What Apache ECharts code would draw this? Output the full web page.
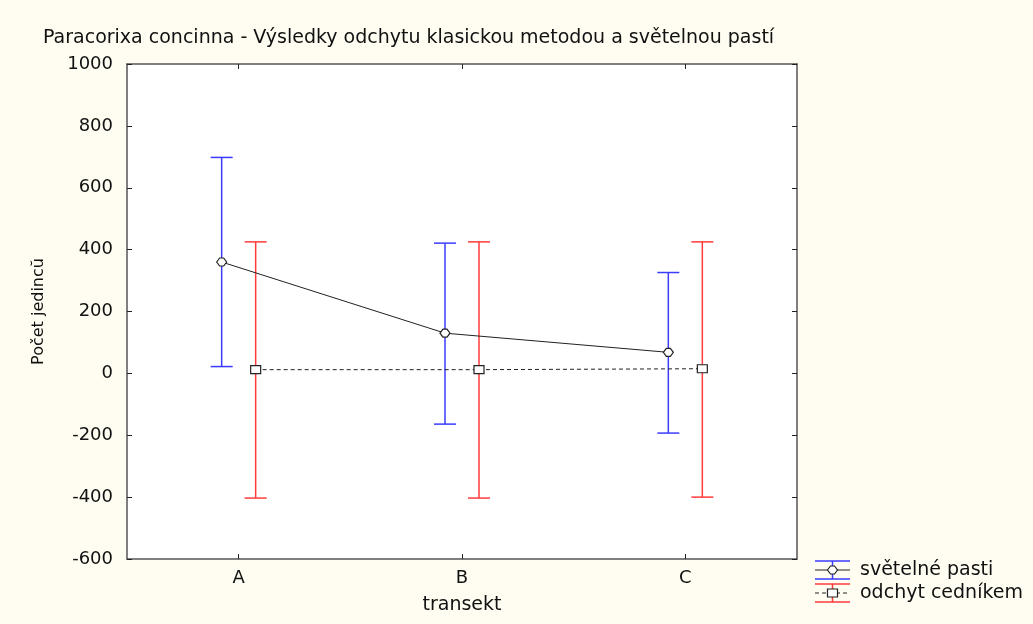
<!DOCTYPE html>
<html>
<head>
<meta charset="utf-8">
<title>Paracorixa concinna</title>
<script src="https://cdn.jsdelivr.net/npm/echarts@6/dist/echarts.min.js"></script>
<style>
  html, body { margin: 0; padding: 0; background: #fffcf1; }
  #main { width: 1033px; height: 624px; }
</style>
</head>
<body>
<div id="main"></div>
<script>
// transekty
var categories = ['A', 'B', 'C'];
// světelné pasti: průměr a meze
var pastiMean = [360, 130, 68];
var pastiLow = [22, -164, -193];
var pastiHigh = [698, 421, 326];
// odchyt cedníkem
var cednikMean = [12, 12, 15];
var cednikLow = [-403, -403, -400];
var cednikHigh = [425, 425, 425];
// osa y
var yTicks = [-600, -400, -200, 0, 200, 400, 600, 800, 1000];

var FONT = 'DejaVu Sans, Verdana, sans-serif';
var BLUE = '#3b3bff';
var RED = '#ff3b3b';
var SHIFT = 17;   // posun skupin od středu kategorie (px)
var CAP = 11;

function errorBar(mean, low, high, color, dx) {
  return function (params, api) {
    var i = params.dataIndex;
    var top = api.coord([i, high[i]]);
    var bot = api.coord([i, low[i]]);
    var x = top[0] + dx;
    var st = { stroke: color, lineWidth: 1.5 };
    return {
      type: 'group', children: [
        { type: 'line', shape: { x1: x, y1: top[1], x2: x, y2: bot[1] }, style: st },
        { type: 'line', shape: { x1: x - CAP, y1: top[1], x2: x + CAP, y2: top[1] }, style: st },
        { type: 'line', shape: { x1: x - CAP, y1: bot[1], x2: x + CAP, y2: bot[1] }, style: st }
      ]
    };
  };
}

function meanLine(mean, dx, dashed) {
  return function (params, api) {
    var i = params.dataIndex;
    var p = api.coord([i, mean[i]]);
    var kids = [];
    if (i > 0) {
      var q = api.coord([i - 1, mean[i - 1]]);
      kids.push({
        type: 'line',
        shape: { x1: q[0] + dx, y1: q[1], x2: p[0] + dx, y2: p[1] },
        style: { stroke: '#222', lineWidth: 1, lineDash: dashed ? [4, 3] : null }
      });
    }
    return { type: 'group', children: kids };
  };
}

function markerItem(mean, dx, kind) {
  return function (params, api) {
    var i = params.dataIndex;
    var p = api.coord([i, mean[i]]);
    var x = p[0] + dx, y = p[1];
    var st = { fill: '#fff', stroke: '#222', lineWidth: 1.2 };
    if (kind === 'diamond') {
      return { type: 'polygon', shape: { points: [[x - 5, y], [x - 2, y - 4], [x + 2, y - 4], [x + 5, y], [x + 2, y + 4], [x - 2, y + 4]] }, style: st };
    }
    return { type: 'rect', shape: { x: x - 5, y: y - 4, width: 10, height: 8 }, style: st };
  };
}

function axisY(pos, labels) {
  return {
    type: 'value', position: pos, min: yTicks[0], max: yTicks[yTicks.length - 1], interval: 200,
    axisLine: { show: true, onZero: false, lineStyle: { color: '#555', width: 1.5 } },
    axisTick: { show: true, inside: true, length: 5, lineStyle: { color: '#222' } },
    axisLabel: { show: labels, color: '#111', fontFamily: FONT, fontSize: 18, margin: 14, formatter: function (v) { return String(v); } },
    splitLine: { show: false },
    name: labels ? 'Počet jedincŭ' : '', nameLocation: 'middle', nameGap: 80, nameRotate: 90,
    nameTextStyle: { color: '#111', fontFamily: FONT, fontSize: 16 }
  };
}

function axisX(pos, labels) {
  return {
    type: 'category', position: pos, data: categories,
    axisLine: { show: true, onZero: false, lineStyle: { color: '#555', width: 1.5 } },
    axisTick: { show: true, inside: true, alignWithLabel: true, length: 5, lineStyle: { color: '#222' } },
    axisLabel: { show: labels, color: '#111', fontFamily: FONT, fontSize: 18, margin: 10 },
    name: labels ? 'transekt' : '', nameLocation: 'middle', nameGap: 37,
    nameTextStyle: { color: '#111', fontFamily: FONT, fontSize: 19 }
  };
}

var chart = echarts.init(document.getElementById('main'), null, { renderer: 'canvas' });

var lg = [];
// legenda - světelné pasti
lg.push({ type: 'line', shape: { x1: 815, y1: 561, x2: 850, y2: 561 }, style: { stroke: BLUE, lineWidth: 1.5 } });
lg.push({ type: 'line', shape: { x1: 815, y1: 579, x2: 850, y2: 579 }, style: { stroke: BLUE, lineWidth: 1.5 } });
lg.push({ type: 'line', shape: { x1: 832.5, y1: 561, x2: 832.5, y2: 579 }, style: { stroke: BLUE, lineWidth: 1.5 } });
lg.push({ type: 'line', shape: { x1: 815, y1: 570, x2: 850, y2: 570 }, style: { stroke: '#222', lineWidth: 1 } });
lg.push({ type: 'polygon', shape: { points: [[827.5, 570], [830.5, 566], [834.5, 566], [837.5, 570], [834.5, 574], [830.5, 574]] }, style: { fill: '#fff', stroke: '#222', lineWidth: 1.2 } });
lg.push({ type: 'text', style: { x: 860, y: 570, text: 'světelné pasti', fill: '#111', font: '19px ' + FONT, verticalAlign: 'middle' } });
// legenda - odchyt cedníkem
lg.push({ type: 'line', shape: { x1: 815, y1: 584, x2: 850, y2: 584 }, style: { stroke: RED, lineWidth: 1.5 } });
lg.push({ type: 'line', shape: { x1: 815, y1: 602, x2: 850, y2: 602 }, style: { stroke: RED, lineWidth: 1.5 } });
lg.push({ type: 'line', shape: { x1: 832.5, y1: 584, x2: 832.5, y2: 602 }, style: { stroke: RED, lineWidth: 1.5 } });
lg.push({ type: 'line', shape: { x1: 815, y1: 593, x2: 850, y2: 593 }, style: { stroke: '#222', lineWidth: 1, lineDash: [4, 3] } });
lg.push({ type: 'rect', shape: { x: 827.5, y: 589, width: 10, height: 8 }, style: { fill: '#fff', stroke: '#222', lineWidth: 1.2 } });
lg.push({ type: 'text', style: { x: 860, y: 593, text: 'odchyt cedníkem', fill: '#111', font: '19px ' + FONT, verticalAlign: 'middle' } });

function dataOf(mean) {
  return categories.map(function (c, i) { return [i, mean[i]]; });
}

chart.setOption({
  backgroundColor: '#fffcf1',
  animation: false,
  title: {
    text: 'Paracorixa concinna - Výsledky odchytu klasickou metodou a světelnou pastí',
    left: 38, top: 24,
    textStyle: { color: '#111', fontFamily: FONT, fontSize: 19, fontWeight: 'normal' }
  },
  grid: { left: 127, right: 236, top: 64, bottom: 65, show: true, backgroundColor: '#ffffff', borderWidth: 0 },
  xAxis: [axisX('bottom', true), axisX('top', false)],
  yAxis: [axisY('left', true), axisY('right', false)],
  graphic: lg,
  series: [
    { type: 'custom', name: 'světelné pasti', renderItem: errorBar(pastiMean, pastiLow, pastiHigh, BLUE, -SHIFT), data: dataOf(pastiMean), z: 2 },
    { type: 'custom', name: 'odchyt cedníkem', renderItem: errorBar(cednikMean, cednikLow, cednikHigh, RED, SHIFT), data: dataOf(cednikMean), z: 2 },
    { type: 'custom', renderItem: meanLine(pastiMean, -SHIFT, false), data: dataOf(pastiMean), z: 3 },
    { type: 'custom', renderItem: meanLine(cednikMean, SHIFT, true), data: dataOf(cednikMean), z: 3 },
    { type: 'custom', renderItem: markerItem(pastiMean, -SHIFT, 'diamond'), data: dataOf(pastiMean), z: 4 },
    { type: 'custom', renderItem: markerItem(cednikMean, SHIFT, 'square'), data: dataOf(cednikMean), z: 4 }
  ]
});

window.onresize = function () { chart.resize(); };
</script>
</body>
</html>
